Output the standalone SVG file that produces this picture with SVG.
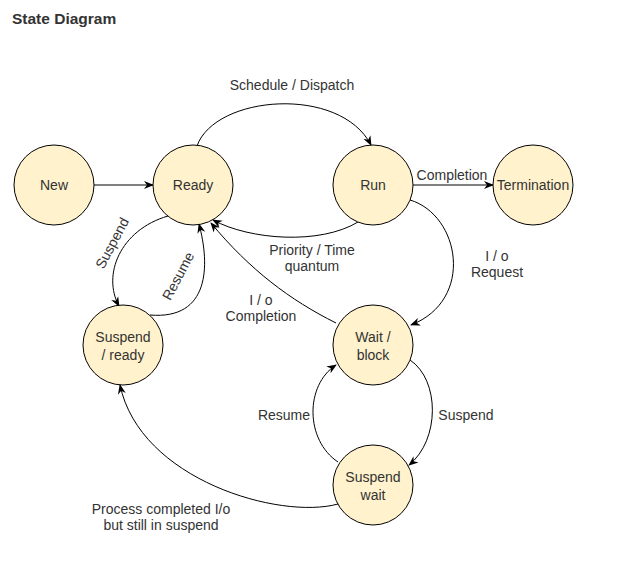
<svg xmlns="http://www.w3.org/2000/svg" width="633" height="561" viewBox="0 0 633 561">
<defs>
<marker id="arr" markerUnits="userSpaceOnUse" markerWidth="10" markerHeight="10" viewBox="0 0 10 10" refX="9" refY="5" orient="auto">
<path d="M0,1 L10,5 L0,9 L3,5 z" fill="#000"/>
</marker>
<style>
.node circle{fill:#fff2cc;stroke:#000;stroke-width:1}
.node text,.lbl{font-family:"Liberation Sans",Arial,sans-serif;font-size:14px;fill:#333;text-anchor:middle}
.edge{fill:none;stroke:#000;stroke-width:1;marker-end:url(#arr)}
.title{font-family:"Liberation Sans",Arial,sans-serif;font-size:15.5px;font-weight:bold;fill:#333}
</style>
</defs>
<rect width="633" height="561" fill="#fff"/>
<text class="title" x="12" y="24">State Diagram</text>
<g id="connectors">
<path class="edge" d="M94 185 L153 185"/>
<path class="edge" d="M197 146 C215 95 340 85 371 145"/>
<path class="edge" d="M413 185 L493 185"/>
<path class="edge" d="M358 222 C320 245 250 240 213 220"/>
<path class="edge" d="M336 323 C290 300 250 270 211 223"/>
<path class="edge" d="M410 200 C460 215 475 300 411 325"/>
<path class="edge" d="M168 216 C120 230 102 275 119 306"/>
<path class="edge" d="M150 315 C210 320 210 265 199 224"/>
<path class="edge" d="M410 360 C440 380 440 440 409 465"/>
<path class="edge" d="M338 462 C305 440 305 385 336 365"/>
<path class="edge" d="M338 504 C280 520 140 480 120 385"/>
<text class="lbl" x="292" y="90">Schedule / Dispatch</text>
<text class="lbl" x="452" y="180">Completion</text>
<text class="lbl" x="312" y="255">Priority / Time</text>
<text class="lbl" x="312" y="271">quantum</text>
<text class="lbl" x="497" y="261">I / o</text>
<text class="lbl" x="497" y="277">Request</text>
<text class="lbl" x="261" y="305">I / o</text>
<text class="lbl" x="261" y="321">Completion</text>
<text class="lbl" transform="translate(112,243) rotate(-62)" y="5">Suspend</text>
<text class="lbl" transform="translate(178,276) rotate(-62)" y="5">Resume</text>
<text class="lbl" x="284" y="420">Resume</text>
<text class="lbl" x="466" y="420">Suspend</text>
<text class="lbl" x="161" y="514">Process completed I/o</text>
<text class="lbl" x="161" y="530">but still in suspend</text>
</g>
<g id="new" class="node"><circle cx="54" cy="185" r="40"/><text x="54" y="190">New</text></g>
<g id="ready" class="node"><circle cx="193" cy="185" r="40"/><text x="193" y="190">Ready</text></g>
<g id="run" class="node"><circle cx="373" cy="185" r="40"/><text x="373" y="190">Run</text></g>
<g id="termination" class="node"><circle cx="533" cy="185" r="40"/><text x="533" y="190">Termination</text></g>
<g id="suspend-ready" class="node"><circle cx="123" cy="345" r="40"/><text x="123" y="342">Suspend</text><text x="123" y="360">/ ready</text></g>
<g id="wait-block" class="node"><circle cx="373" cy="345" r="40"/><text x="373" y="342">Wait /</text><text x="373" y="360">block</text></g>
<g id="suspend-wait" class="node"><circle cx="373" cy="485" r="40"/><text x="373" y="482">Suspend</text><text x="373" y="500">wait</text></g>
</svg>
